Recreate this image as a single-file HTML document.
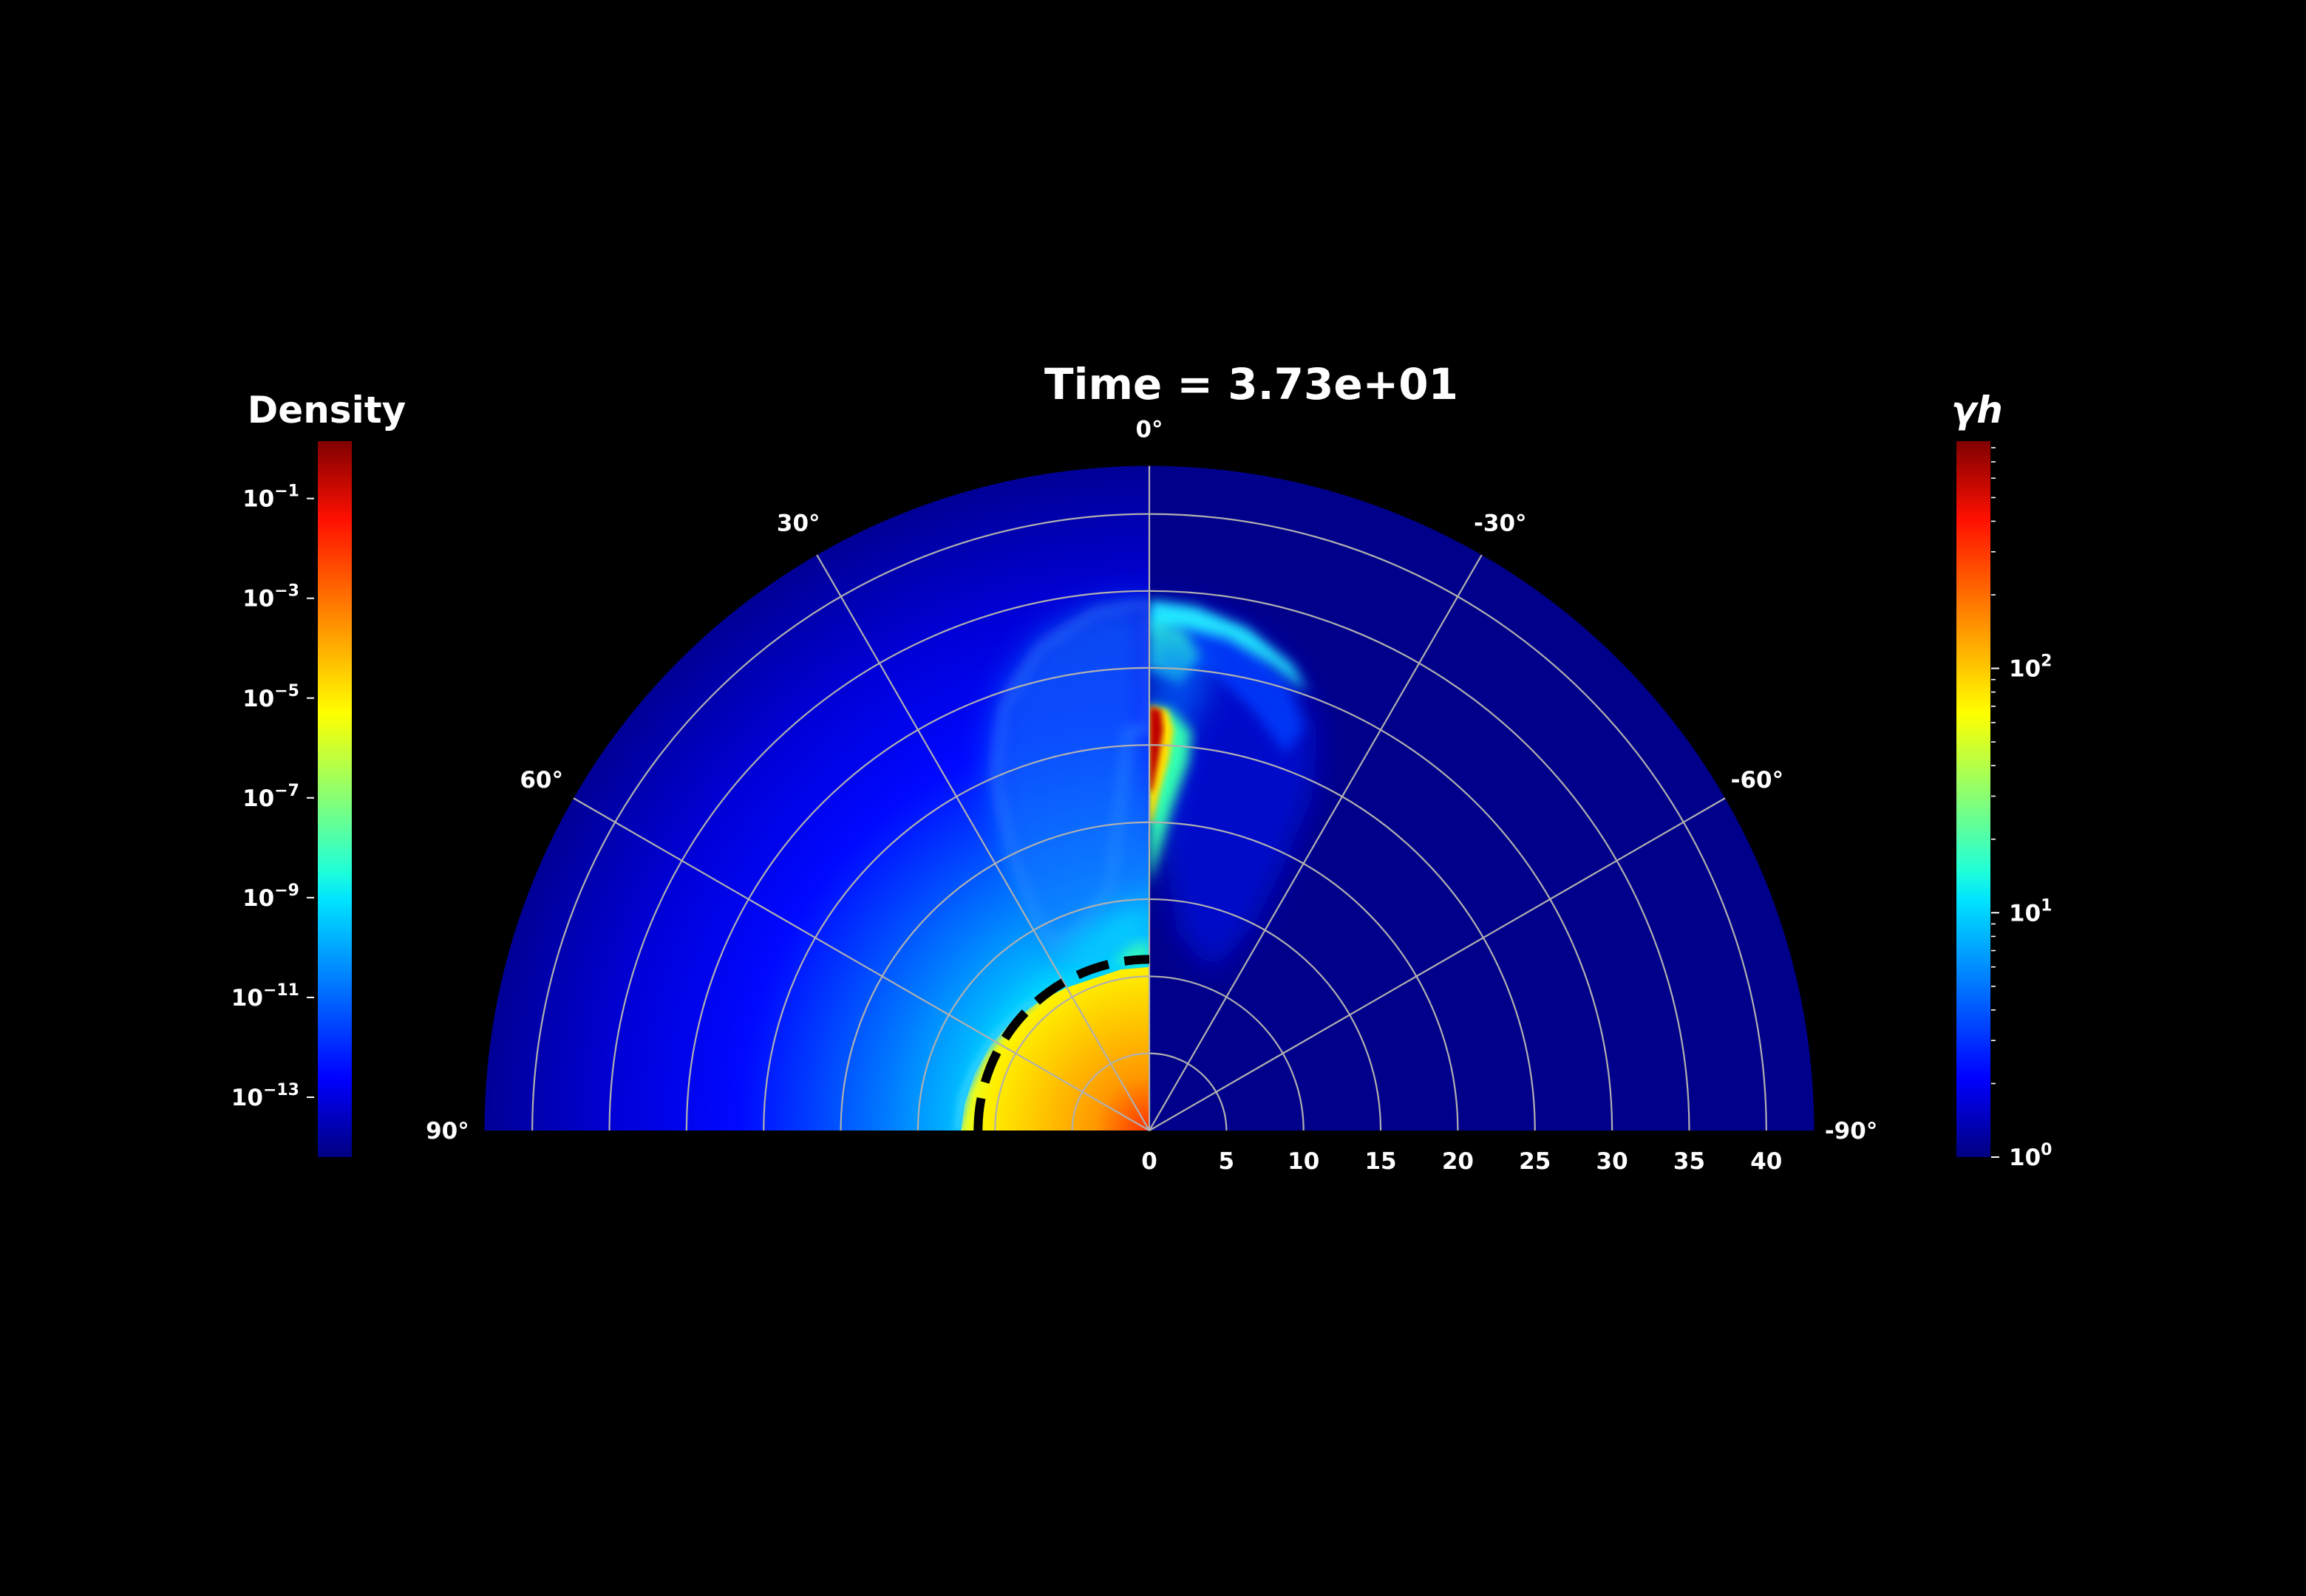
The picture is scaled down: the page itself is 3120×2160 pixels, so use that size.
<!DOCTYPE html>
<html><head><meta charset="utf-8">
<style>
html,body{margin:0;padding:0;background:#000;}
svg{display:block;}
text{font-family:"DejaVu Sans","Liberation Sans",sans-serif;font-weight:bold;fill:#fff;}
</style></head>
<body>
<svg id="fig" width="3120" height="2160" viewBox="0 0 3120 2160" xmlns="http://www.w3.org/2000/svg">
<defs>
  <linearGradient id="jetV" x1="0" y1="1" x2="0" y2="0">
    <stop offset="0" stop-color="#000080"/><stop offset="0.11" stop-color="#0000ff"/>
    <stop offset="0.36" stop-color="#00e4ff"/><stop offset="0.40" stop-color="#20ffd8"/>
    <stop offset="0.62" stop-color="#ffff00"/><stop offset="0.89" stop-color="#ff1000"/>
    <stop offset="1" stop-color="#800000"/>
  </linearGradient>
  <radialGradient id="densBg" gradientUnits="userSpaceOnUse" cx="1555" cy="1530" r="900">
    <stop offset="0.26" stop-color="#00d8ff"/>
    <stop offset="0.30" stop-color="#00b4ff"/>
    <stop offset="0.40" stop-color="#0078ff"/>
    <stop offset="0.52" stop-color="#0038ff"/>
    <stop offset="0.62" stop-color="#0008ff"/>
    <stop offset="0.80" stop-color="#0000d8"/>
    <stop offset="1" stop-color="#000096"/>
  </radialGradient>
  <radialGradient id="coreG" gradientUnits="userSpaceOnUse" cx="1555" cy="1530" r="245">
    <stop offset="0" stop-color="#ff3000"/>
    <stop offset="0.3" stop-color="#ff9800"/>
    <stop offset="0.65" stop-color="#ffcc00"/>
    <stop offset="0.9" stop-color="#fff000"/>
    <stop offset="1" stop-color="#e8ff20"/>
  </radialGradient>
  <clipPath id="leftHalf"><rect x="0" y="0" width="1555" height="1530"/></clipPath>
  <clipPath id="rightHalf"><rect x="1555" y="0" width="1565" height="1530"/></clipPath>
  <filter id="blur8" x="-20%" y="-20%" width="140%" height="140%"><feGaussianBlur stdDeviation="8"/></filter>
  <filter id="blur20" x="-30%" y="-30%" width="160%" height="160%"><feGaussianBlur stdDeviation="20"/></filter>
  <filter id="blur4" x="-20%" y="-20%" width="140%" height="140%"><feGaussianBlur stdDeviation="4"/></filter>
</defs>
<g id="field"></g>
<g id="grid"></g>
<g id="labels"></g>
<g id="cbars"></g>
<text x="1693" y="540" font-size="58" text-anchor="middle">Time = 3.73e+01</text>
</svg>
<script>
// ---- data ----
const radialTicks = [0,5,10,15,20,25,30,35,40];
const angleTicks = [0,30,60,90,-30,-60,-90];
const gridAngles = [0,30,60,-30,-60];
const rMax = 43.1;
const densityTickExps = [-1,-3,-5,-7,-9,-11,-13];
const densityRange = [-14.2,0.15];
const ghMajorExps = [0,1,2];
const ghMinor = [2,3,4,5,6,7,8,9];
const ghRange = [0,2.93];
const dashRadius = 11.1;

// ---- axes ----
const cx=1555, cy=1530, k=20.87;
const NS='http://www.w3.org/2000/svg';
function P(r,th){const a=th*Math.PI/180;return [cx - r*k*Math.sin(a), cy - r*k*Math.cos(a)];}
function mk(tag,attrs,parent){const e=document.createElementNS(NS,tag);for(const a in attrs)e.setAttribute(a,attrs[a]);parent.appendChild(e);return e;}
function poly(pts){return pts.map((p,i)=>{const q=P(p[0],p[1]);return (i?'L':'M')+q[0].toFixed(1)+' '+q[1].toFixed(1);}).join(' ')+' Z';}
function arcPath(r){const a=P(r,90),b=P(r,-90);return `M${a[0]} ${a[1]} A${r*k} ${r*k} 0 0 1 ${b[0]} ${b[1]}`;}

const field=document.getElementById('field');
const R=rMax*k;
let e=mk('path',{d:`M${cx-R} ${cy} A${R} ${R} 0 0 1 ${cx} ${cy-R} L${cx} ${cy} Z`,fill:'url(#densBg)'},field);


e=mk('path',{d:`M${cx} ${cy-R} A${R} ${R} 0 0 1 ${cx+R} ${cy} L${cx} ${cy} Z`,fill:'#00008a'},field);



// density cocoon
const gL=mk('g',{'clip-path':'url(#leftHalf)'},field);
e=mk('path',{d:poly([[34.5,0],[34.2,6],[33,12],[30.5,18],[27,23],[23,26],[18,28],[14,30],[12,28],[11.5,18],[12,8],[12,0]]),fill:'#1478ff','fill-opacity':'0.6',filter:'url(#blur20)'},gL);


e=mk('path',{d:poly([[34.3,0],[33.8,6],[32,13],[29,19],[25,23.5],[20,26.5],[16,28],[13.5,27],[14,18],[16,9],[26,3],[26,0]]),fill:'none',stroke:'#3a9cff','stroke-width':'10','stroke-opacity':'0.45',filter:'url(#blur8)'},gL);


e=mk('path',{d:poly([[15,0],[14.5,8],[13.5,18],[13,28],[11.5,24],[12,10],[12,0]]),fill:'#00e8ff','fill-opacity':'0.75',filter:'url(#blur20)'},gL);


e=mk('path',{d:poly([[12.3,0],[12,6],[11.2,12],[10.8,6],[10.8,0]]),fill:'#40ffb0','fill-opacity':'0.8',filter:'url(#blur8)'},gL);


// core
e=mk('path',{d:poly([[10.6,0],[10.6,10],[10.5,20],[10.7,30],[11,40],[11.4,52],[11.7,62],[11.9,72],[12.1,82],[12.2,90],[0,90]]),fill:'url(#coreG)'},gL);


e=mk('path',{d:poly([[11.2,32],[11.6,45],[12,58],[12.3,70],[12.6,80],[12.7,90],[12.2,90],[11.9,78],[11.6,66],[11.3,54],[11,42]]),fill:'#30d0ff','fill-opacity':'0.8',filter:'url(#blur4)'},gL);



// gamma features
const gR=mk('g',{'clip-path':'url(#rightHalf)'},field);
e=mk('path',{d:poly([[34.4,0],[34,-6],[33,-12],[31,-18],[28,-23],[24,-26],[19,-27],[15,-27],[11,-22],[13,-8],[20,-2],[20,0]]),fill:'#0014ff','fill-opacity':'0.55',filter:'url(#blur20)'},gR);


e=mk('path',{d:poly([[34,0],[33.5,-6],[32.5,-11],[30.5,-17],[28,-21],[26,-20],[28,-14],[30,-8],[30,0]]),fill:'#0040ff','fill-opacity':'0.8',filter:'url(#blur8)'},gR);


e=mk('path',{d:poly([[34.4,0],[34.1,-5],[33.2,-11],[31.6,-17],[30.2,-20],[31.2,-15],[32.3,-9],[32.6,-4],[32.4,0]]),fill:'#20e8ff',filter:'url(#blur8)'},gR);


e=mk('path',{d:poly([[33,0],[32.5,-4],[31,-6],[29,-4],[30,0]]),fill:'#30ffd0','fill-opacity':'0.8',filter:'url(#blur8)'},gR);


e=mk('path',{d:poly([[32,0],[31.5,-6],[29,-8],[26,-5],[22,-3],[16,-1],[14,0]]),fill:'#0070ff','fill-opacity':'0.6',filter:'url(#blur20)'},gR);


e=mk('path',{d:poly([[27.6,0],[27.3,-3],[26,-6],[24,-6],[21,-4],[18,-2],[16,0]]),fill:'#30ffb0',filter:'url(#blur8)'},gR);


e=mk('path',{d:poly([[27.5,0],[27.3,-2.5],[26,-3.5],[24,-3],[22,-1.8],[20,-0.6],[20,0]]),fill:'#ffe000',filter:'url(#blur4)'},gR);


e=mk('path',{d:poly([[27.5,0],[27.3,-1.6],[26,-2],[24,-1.4],[22,-0.5],[22,0]]),fill:'#c00000',filter:'url(#blur4)'},gR);



// grid
const grid=document.getElementById('grid');
radialTicks.filter(r=>r>0).forEach(r=>{
  const c=mk('path',{d:arcPath(r),fill:'none',stroke:'#b0b0b0','stroke-width':'2.2'},grid);
  
  
});
gridAngles.forEach(a=>{
  const q=P(rMax,a);
  const l=mk('line',{x1:cx,y1:cy,x2:q[0],y2:q[1],stroke:'#b0b0b0','stroke-width':'2.2'},grid);
  
  
});
e=mk('path',{d:`M${P(dashRadius,90)[0]} ${cy} A${dashRadius*k} ${dashRadius*k} 0 0 1 ${cx} ${cy-dashRadius*k}`,fill:'none',stroke:'#000','stroke-width':'12','stroke-dasharray':'44 22'},grid);



// labels
const labels=document.getElementById('labels');
radialTicks.forEach(r=>{
  const t=mk('text',{x:cx+r*k,y:1582,'font-size':'31','text-anchor':'middle'},labels);
  t.textContent=String(r);
  
  
});
angleTicks.forEach(a=>{
  const q=P(rMax+2.4,a);
  const t=mk('text',{x:q[0],y:q[1]+11,'font-size':'31','text-anchor':'middle'},labels);
  t.textContent=a+'°';
  
  
});

// colorbars
const cb=document.getElementById('cbars');
const cbTop=597, cbBot=1566;
e=mk('rect',{x:430,y:cbTop,width:46,height:cbBot-cbTop,fill:'url(#jetV)'},cb);


e=mk('text',{x:442,y:572,'font-size':'50','text-anchor':'middle'},cb);
e.textContent='Density';


function dY(v){return cbBot-(v-densityRange[0])/(densityRange[1]-densityRange[0])*(cbBot-cbTop);}
densityTickExps.forEach(x=>{
  const y=dY(x);
  const l=mk('line',{x1:415,x2:425,y1:y,y2:y,stroke:'#fff','stroke-width':'2'},cb);
  
  
  const t=mk('text',{x:405,y:y+11,'font-size':'31','text-anchor':'end'},cb);
  
  
  t.textContent='10';
  const s=mk('tspan',{dy:'-14','font-size':'22'},t);
  s.textContent='−'+Math.abs(x);
});

e=mk('rect',{x:2647,y:cbTop,width:46,height:cbBot-cbTop,fill:'url(#jetV)'},cb);


e=mk('text',{x:2675,y:572,'font-size':'50','text-anchor':'middle','font-style':'italic'},cb);
e.textContent='γh';


function gY(v){return cbBot-(v-ghRange[0])/(ghRange[1]-ghRange[0])*(cbBot-cbTop);}
ghMajorExps.forEach(x=>{
  const y=gY(x);
  const l=mk('line',{x1:2694,x2:2705,y1:y,y2:y,stroke:'#fff','stroke-width':'2'},cb);
  
  
  const t=mk('text',{x:2718,y:y+11,'font-size':'31'},cb);
  
  
  t.textContent='10';
  const s=mk('tspan',{dy:'-14','font-size':'22'},t);
  s.textContent=String(x);
  ghMinor.forEach(m=>{
    const v=x+Math.log10(m);
    if(v>ghRange[1])return;
    const yy=gY(v);
    const ml=mk('line',{x1:2694,x2:2700,y1:yy,y2:yy,stroke:'#fff','stroke-width':'1.6'},cb);
    
    
  });
});
</script>
</body></html>
